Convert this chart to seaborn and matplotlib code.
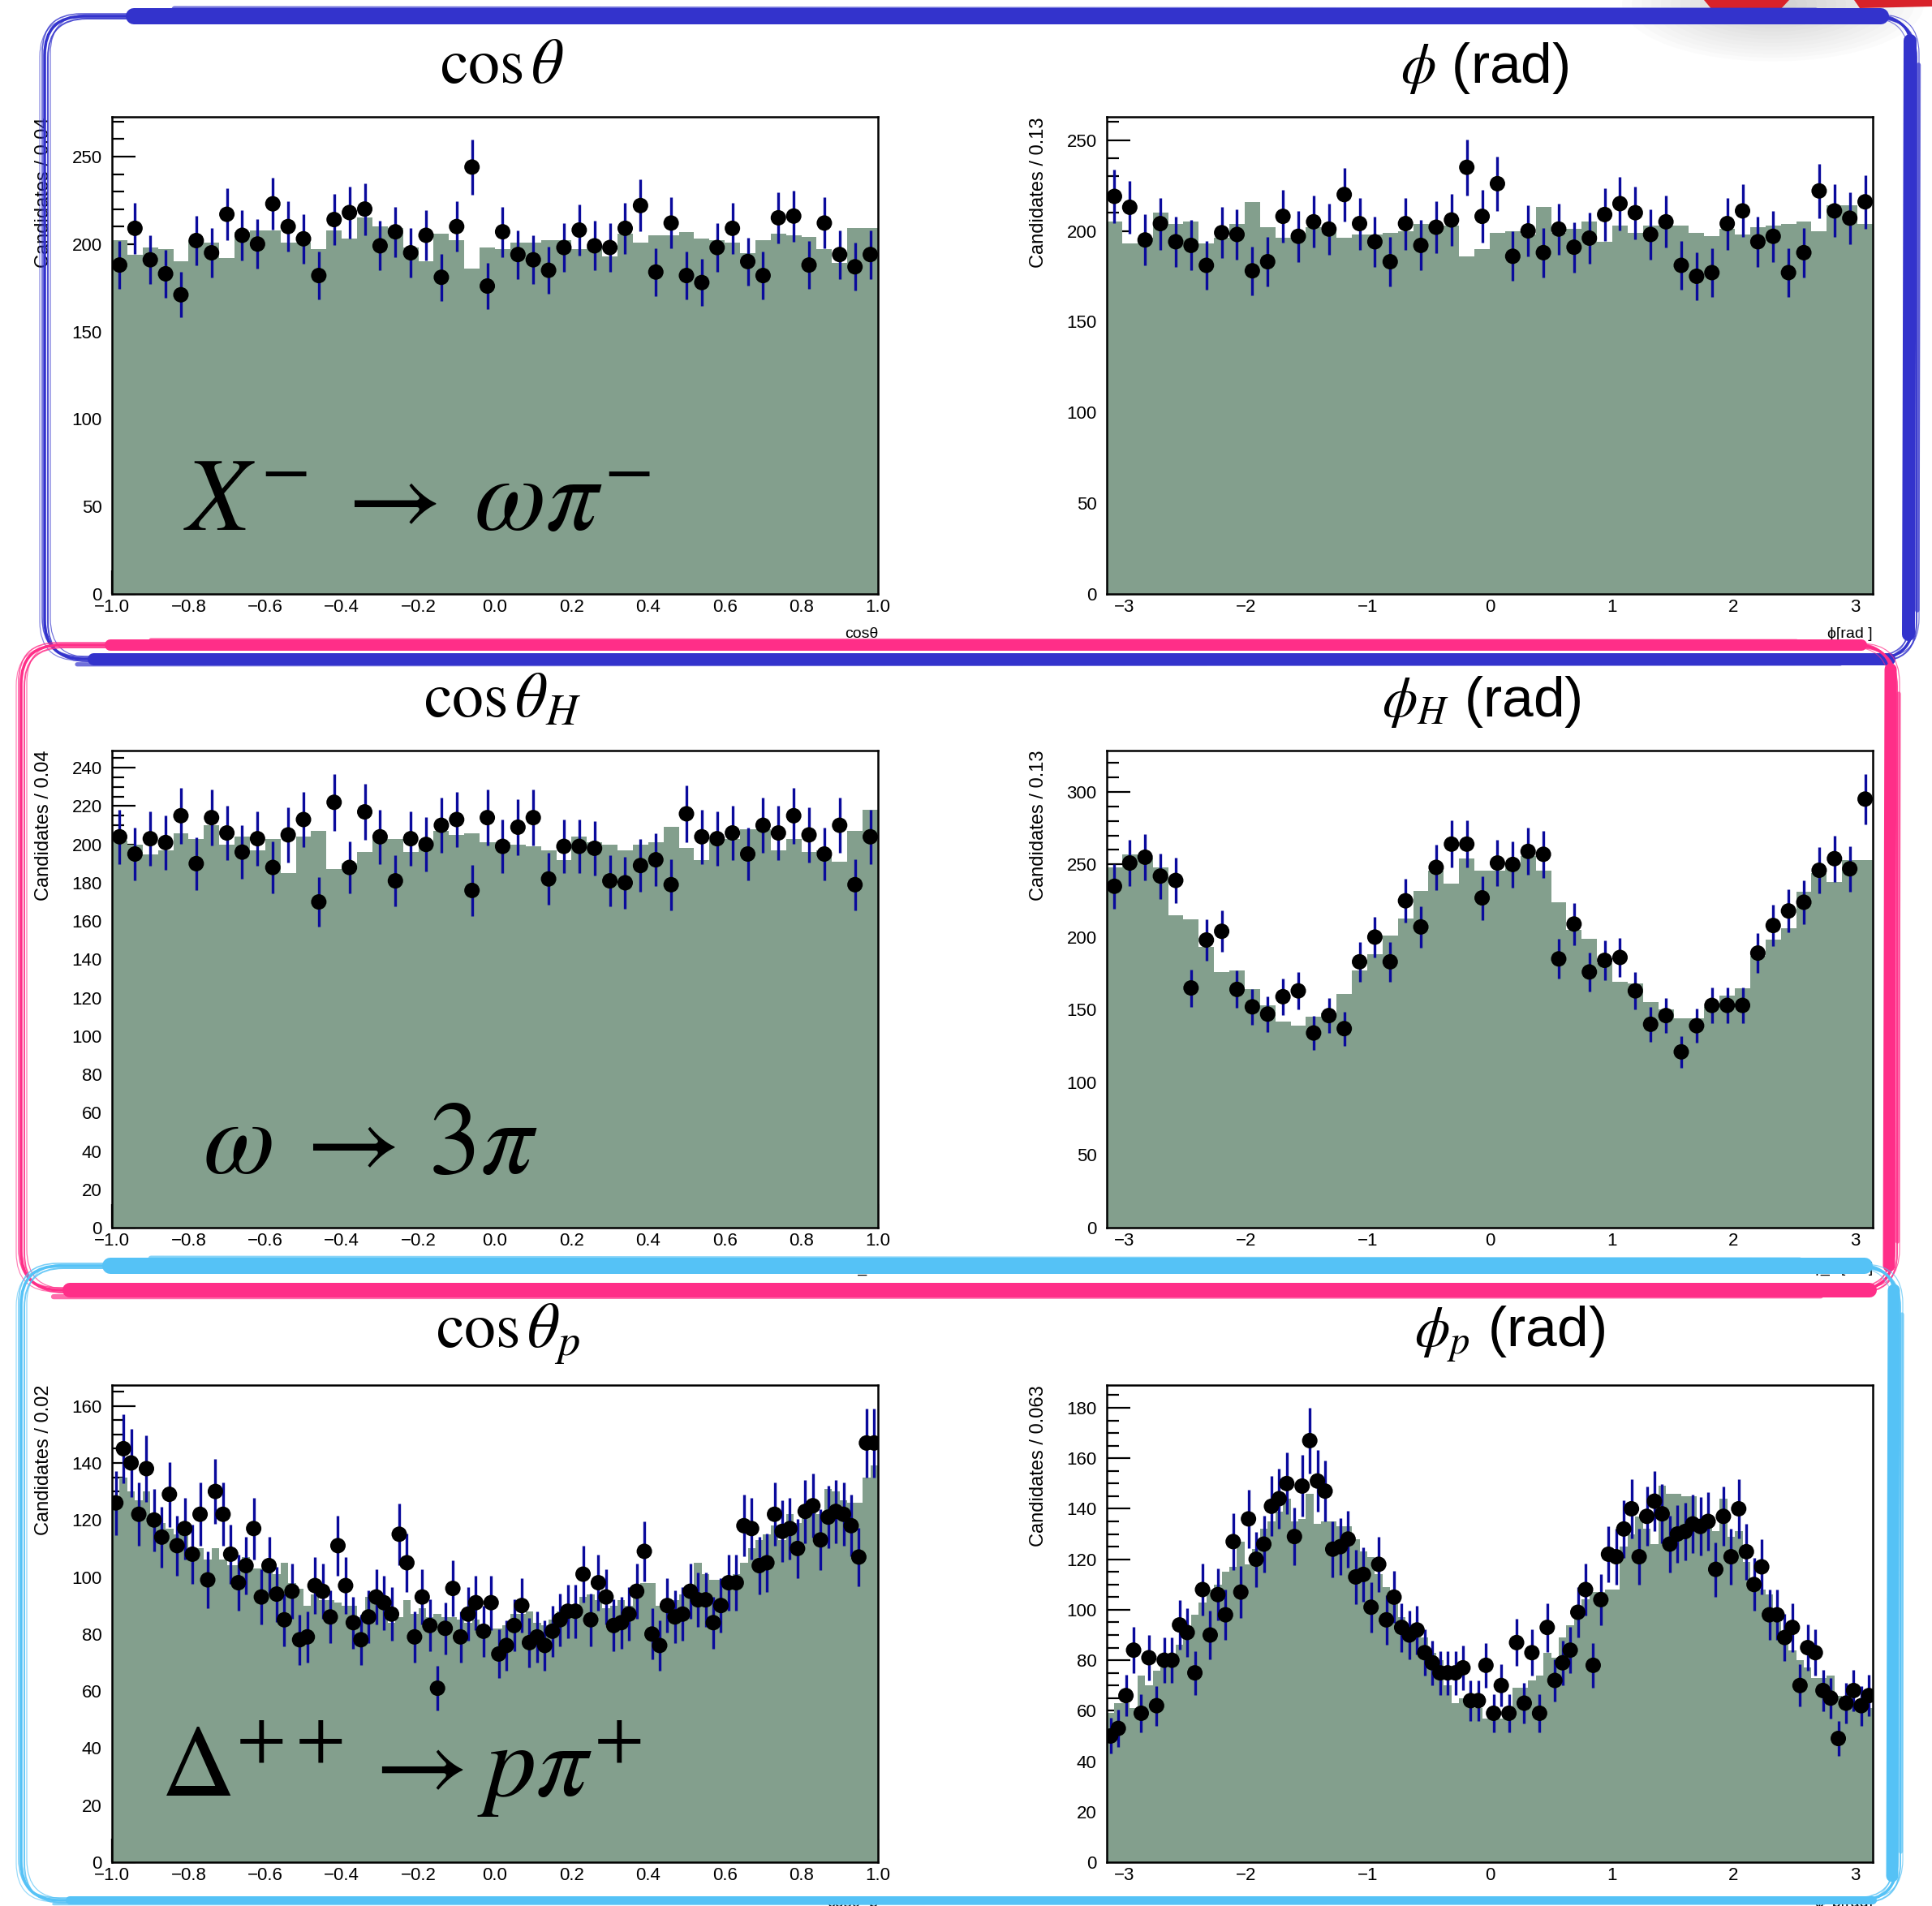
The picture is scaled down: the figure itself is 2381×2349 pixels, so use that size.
import numpy as np
import pandas as pd
import matplotlib
matplotlib.use("Agg")
import matplotlib.pyplot as plt
import seaborn as sns
from matplotlib.patches import FancyBboxPatch, Ellipse, Polygon
from matplotlib.lines import Line2D
from matplotlib.ticker import MultipleLocator, FuncFormatter
from matplotlib.transforms import IdentityTransform

# ---------------- data ----------------
cth_data = [188, 209, 191, 183, 171, 202, 195, 217, 205, 200, 223, 210, 203, 182, 214, 218, 220, 199, 207, 195,
            205, 181, 210, 244, 176, 207, 194, 191, 185, 198, 208, 199, 198, 209, 222, 184, 212, 182, 178, 198,
            209, 190, 182, 215, 216, 188, 212, 194, 187, 194]
cth_model = [202, 194, 198, 197, 190, 202, 201, 192, 207, 208, 208, 201, 201, 197, 208, 203, 215, 210, 209, 198,
             190, 206, 202, 186, 198, 197, 201, 201, 202, 202, 197, 198, 193, 206, 201, 205, 205, 207, 203, 202,
             201, 195, 202, 206, 205, 204, 197, 189, 209, 209]

phi_data = [219, 213, 195, 204, 194, 192, 181, 199, 198, 178, 183, 208, 197, 205, 201, 220, 204, 194, 183, 204,
            192, 202, 206, 235, 208, 226, 186, 200, 188, 201, 191, 196, 209, 215, 210, 198, 205, 181, 175, 177,
            204, 211, 194, 197, 177, 188, 222, 211, 207, 216]
phi_model = [205, 193, 196, 210, 204, 205, 193, 196, 204, 216, 202, 196, 199, 202, 200, 196, 198, 198, 199, 200,
             204, 204, 203, 186, 190, 199, 200, 198, 213, 199, 201, 205, 194, 203, 199, 203, 203, 203, 199, 197,
             201, 198, 202, 203, 204, 205, 200, 214, 214, 204]

cthH_data = [204, 195, 203, 201, 215, 190, 214, 206, 196, 203, 188, 205, 213, 170, 222, 188, 217, 204, 181, 203,
             200, 210, 213, 176, 214, 199, 209, 214, 182, 199, 199, 198, 181, 180, 189, 192, 179, 216, 204, 203,
             206, 195, 210, 206, 215, 205, 195, 210, 179, 204]
cthH_model = [202, 200, 195, 197, 206, 203, 210, 200, 204, 197, 203, 185, 204, 207, 187, 190, 196, 203, 203, 196,
              202, 207, 205, 206, 201, 201, 200, 199, 197, 192, 204, 201, 200, 197, 200, 201, 209, 198, 192, 202,
              203, 208, 208, 197, 203, 196, 197, 191, 207, 218]

phiH_data = [235, 251, 255, 242, 239, 165, 198, 204, 164, 152, 147, 159, 163, 134, 146, 137, 183, 200, 183, 225,
             207, 248, 264, 264, 227, 251, 250, 259, 257, 185, 209, 176, 184, 186, 163, 140, 146, 121, 139, 153,
             153, 153, 189, 208, 218, 224, 246, 254, 247, 295]
phiH_model = [248, 257, 254, 248, 215, 212, 193, 176, 177, 164, 153, 142, 139, 145, 148, 161, 177, 188, 201, 213,
              232, 246, 237, 254, 246, 246, 250, 256, 246, 224, 205, 199, 182, 169, 168, 155, 150, 144, 144, 152,
              160, 165, 187, 198, 206, 231, 244, 238, 253, 253]

cthp_data = [126, 145, 140, 122, 138, 120, 114, 129, 111, 117, 108, 122, 99, 130, 122, 108, 98, 104, 117, 93,
             104, 94, 85, 95, 78, 79, 97, 95, 86, 111, 97, 84, 78, 86, 93, 91, 87, 115, 105, 79,
             93, 83, 61, 82, 96, 79, 87, 91, 81, 91,
             73, 76, 83, 90, 77, 79, 76, 81, 85, 88, 88, 101, 85, 98, 93, 83, 84, 87, 95, 109,
             80, 76, 90, 86, 87, 95, 92, 92, 84, 90, 98, 98, 118, 117, 104, 105, 122, 116, 117, 110,
             123, 125, 113, 121, 123, 122, 118, 107, 147, 147]
cthp_model = [125, 135, 130, 127, 130, 120, 119, 117, 115, 116, 110, 110, 106, 110, 106, 104, 104, 107, 103, 103,
              106, 101, 105, 98, 96, 90, 94, 92, 92, 91, 90, 90, 86, 93, 91, 90, 84, 86, 92, 87,
              89, 86, 87, 86, 86, 85, 84, 85, 83, 82,
              82, 83, 87, 87, 88, 84, 83, 85, 88, 87, 90, 93, 94, 92, 89, 90, 92, 90, 93, 98,
              98, 90, 90, 92, 94, 95, 105, 101, 99, 99, 99, 101, 105, 110, 113, 115, 118, 113, 122, 119,
              123, 123, 122, 131, 130, 127, 126, 126, 135, 139]

phip_data = [50, 53, 66, 84, 59, 81, 62, 80, 80, 94, 91, 75, 108, 90, 106, 98, 127, 107, 136, 120,
             126, 141, 144, 150, 129, 149, 167, 151, 147, 124, 125, 128, 113, 114, 101, 118, 96, 105, 93, 90,
             92, 83, 79, 75, 75, 75, 77, 64, 64, 78,
             59, 70, 59, 87, 63, 83, 59, 93, 72, 79, 84, 99, 108, 78, 104, 122, 121, 132, 140, 121,
             137, 143, 138, 126, 130, 131, 134, 133, 135, 116, 137, 121, 140, 123, 110, 117, 98, 98, 89, 93,
             70, 85, 83, 68, 65, 49, 63, 68, 62, 66]
phip_model = [59, 63, 63, 61, 74, 70, 76, 77, 80, 86, 90, 98, 103, 108, 110, 115, 117, 127, 118, 124,
              132, 135, 139, 144, 135, 136, 146, 134, 135, 135, 133, 133, 128, 123, 121, 114, 109, 105, 97, 93,
              91, 89, 83, 80, 70, 63, 65, 63, 61, 57,
              57, 57, 57, 69, 69, 72, 74, 83, 81, 89, 94, 101, 104, 107, 107, 108, 108, 125, 130, 137,
              132, 126, 149, 146, 146, 145, 145, 134, 134, 131, 144, 129, 131, 119, 112, 108, 106, 95, 88, 84,
              80, 77, 73, 73, 74, 66, 64, 61, 61, 61]

ylabels = ["Candidates / 0.04", "Candidates / 0.13", "Candidates / 0.04",
           "Candidates / 0.13", "Candidates / 0.02", "Candidates / 0.063"]
xtitles = ["cos\u03b8", "\u03d5[rad ]", "cos\u03b8_H", "\u03d5_H[rad]", "cos\u03b8_p", "\u03d5_p[rad]"]
titles = [r"$\cos\theta$", r"$\phi$ (rad)", r"$\cos\theta_{H}$", r"$\phi_{H}$ (rad)",
          r"$\cos\theta_{p}$", r"$\phi_{p}$ (rad)"]
decays = [r"$X^{-}\:\rightarrow\:\omega\pi^{-}$", r"$\omega\:\rightarrow\,3\pi$",
          r"$\Delta^{++}\rightarrow p\pi^{+}$"]

# ---------------- style ----------------
sns.set_style("ticks")
plt.rcParams['font.family'] = ['Liberation Sans', 'DejaVu Sans']
plt.rcParams['mathtext.fontset'] = 'stix'
plt.rcParams['axes.unicode_minus'] = True
for key in ['text.color', 'axes.labelcolor', 'xtick.color', 'ytick.color', 'axes.edgecolor']:
    plt.rcParams[key] = 'black'

HIST_COLOR = '#839f8d'
ERR_COLOR = '#0a0a9c'

W, H = 2381, 2349
fig = plt.figure(figsize=(W / 100, H / 100), dpi=100)
fig.patch.set_facecolor('white')

COL_X0 = [138, 1364]
ROW_TOP = [144, 925, 1707]
AX_W, AX_H = 944, 588

panels = [
    dict(data=cth_data, model=cth_model, rng=(-1, 1), ylim=272.7, maj=50, mnr=10),
    dict(data=phi_data, model=phi_model, rng=(-np.pi, np.pi), ylim=262.8, maj=50, mnr=10),
    dict(data=cthH_data, model=cthH_model, rng=(-1, 1), ylim=249.0, maj=20, mnr=5),
    dict(data=phiH_data, model=phiH_model, rng=(-np.pi, np.pi), ylim=328.4, maj=50, mnr=10),
    dict(data=cthp_data, model=cthp_model, rng=(-1, 1), ylim=167.3, maj=20, mnr=5),
    dict(data=phip_data, model=phip_model, rng=(-np.pi, np.pi), ylim=189.0, maj=20, mnr=5),
]


def fx(x):
    return x / W


def fy(y):
    return 1 - y / H


def minus(s):
    return s.replace('-', '\u2212')


for k, p in enumerate(panels):
    row, col = divmod(k, 2)
    x0, top = COL_X0[col], ROW_TOP[row]
    ax = fig.add_axes([fx(x0), fy(top + AX_H), AX_W / W, AX_H / H])
    data = np.asarray(p['data'], float)
    model = np.asarray(p['model'], float)
    lo, hi = p['rng']
    nb = len(model)
    edges = np.linspace(lo, hi, nb + 1)
    centers = 0.5 * (edges[:-1] + edges[1:])
    df = pd.DataFrame({'x': centers, 'model': model, 'data': data})

    sns.histplot(data=df, x='x', weights='model', bins=nb, binrange=(lo, hi), element='step',
                 fill=True, color=HIST_COLOR, edgecolor=HIST_COLOR, alpha=1, linewidth=0,
                 ax=ax, zorder=1)
    ax.errorbar(df['x'], df['data'], yerr=np.sqrt(df['data']), fmt='none', ecolor=ERR_COLOR,
                elinewidth=2.4, capsize=0, zorder=3)
    sns.scatterplot(data=df, x='x', y='data', color='black', s=188, edgecolor='none', linewidth=0,
                    ax=ax, zorder=4)

    ax.set_xlim(lo, hi)
    ax.set_ylim(0, p['ylim'])
    ax.set_axisbelow(True)
    ax.set_xlabel("")
    ax.set_ylabel(ylabels[k], loc='top', fontsize=17, color='black')
    ax.yaxis.set_label_coords(-0.077, 1.0)

    ax.yaxis.set_major_locator(MultipleLocator(p['maj']))
    ax.yaxis.set_minor_locator(MultipleLocator(p['mnr']))
    if col == 0:
        ticks = np.round(np.linspace(-1, 1, 11), 1) + 0.0
        ax.set_xticks(ticks)
        ax.xaxis.set_major_formatter(FuncFormatter(lambda v, pos: minus(f"{v:.1f}")))
        ax.xaxis.set_minor_locator(MultipleLocator(0.04))
    else:
        ax.set_xticks([-3, -2, -1, 0, 1, 2, 3])
        ax.xaxis.set_minor_locator(MultipleLocator(0.25))

    ax.tick_params(axis='y', which='major', direction='in', length=21, width=1.6,
                   labelsize=16, pad=9, colors='black')
    ax.tick_params(axis='y', which='minor', direction='in', length=11, width=1.6, colors='black')
    ax.tick_params(axis='x', which='major', direction='in', length=21, width=1.6,
                   labelsize=16, pad=4, colors='black')
    ax.tick_params(axis='x', which='minor', direction='in', length=11, width=1.6, colors='black')
    for s in ax.spines.values():
        s.set_visible(True)
        s.set_linewidth(1.8)
        s.set_color('black')
        s.set_zorder(5)

    # small RooFit x-axis title under the axis
    fig.text(fx(x0 + AX_W), fy(top + AX_H + 50), xtitles[k], ha='right', va='center',
             fontsize=14, color='black')

# ---------------- big titles ----------------
title_pos = [(619, 102), (1830, 102), (619, 883), (1826, 883), (626, 1660), (1860, 1660)]
for k, (tx, ty) in enumerate(title_pos):
    fs = 56 if k % 2 == 0 else 50
    fig.text(fx(tx), fy(ty), titles[k], ha='center', va='baseline', fontsize=fs, color='black')

# ---------------- decay labels ----------------
decay_pos = [(226, 653, 92), (250, 1446, 92), (198, 2214, 91)]
for txt, (tx, ty, fs) in zip(decays, decay_pos):
    fig.text(fx(tx), fy(ty), txt, ha='left', va='baseline', fontsize=fs, color='black', zorder=6)

# ---------------- hand-drawn boxes ----------------
ID = IdentityTransform()


def add_line(xs, ys, color, lw_px, alpha=1.0, z=20):
    ln = Line2D(xs, [H - y for y in ys], transform=ID, color=color,
                linewidth=lw_px * 0.72, alpha=alpha, solid_capstyle='round', zorder=z)
    fig.add_artist(ln)


def add_rbox(x0, y0, x1, y1, color, r, lw_px, dx=0, dy=0, alpha=1.0, z=20):
    patch = FancyBboxPatch((x0 + dx, H - y1 + dy), (x1 - x0), (y1 - y0),
                           boxstyle=f"round,pad=0,rounding_size={r}", transform=ID,
                           fill=False, edgecolor=color, linewidth=lw_px * 0.72,
                           alpha=alpha, zorder=z)
    fig.add_artist(patch)


def hand_box(x0, y0, x1, y1, color, top_w, bot_w, right_w, z):
    r = 48
    for dx, dy, lw, a in [(0, 0, 3.5, 1.0), (4, -3, 2.0, 0.85), (-3, 3, 1.6, 0.8),
                          (7, 2, 1.2, 0.7), (-6, -2, 1.2, 0.6)]:
        add_rbox(x0, y0, x1, y1, color, r, lw, dx, dy, a, z)
    # thick brush bands
    add_line([x0 + 110, x1 - 40], [y0, y0], color, top_w, 1.0, z)
    add_line([x0 + 160, x1 - 120], [y0 - top_w * 0.45, y0 - top_w * 0.35], color, top_w * 0.35, 0.7, z)
    add_line([x0 + 60, x1 - 30], [y1, y1], color, bot_w, 1.0, z)
    add_line([x0 + 40, x1 - 90], [y1 + bot_w * 0.45, y1 + bot_w * 0.4], color, bot_w * 0.35, 0.7, z)
    add_line([x1 - 4, x1 - 6], [y0 + 30, y1 - 30], color, right_w, 1.0, z)
    add_line([x1 + right_w * 0.4, x1 + right_w * 0.3], [y0 + 60, y1 - 60], color, right_w * 0.35, 0.7, z)


# soft shadow and red shape at top-right corner
for i in range(14):
    w_ = 60 + 24 * i
    e = Ellipse((2185, H - 5), w_, w_ * 0.38, transform=ID, color='#8a8a8a', alpha=0.028,
                zorder=15, lw=0)
    fig.add_artist(e)
for pts in [[(2100, 0), (2205, 0), (2192, 14), (2110, 12)],
            [(2285, 0), (2381, 0), (2381, 8), (2292, 10)]]:
    poly = Polygon([(x, H - y) for x, y in pts], closed=True, transform=ID,
                   facecolor='#d8222a', edgecolor='none', zorder=16)
    fig.add_artist(poly)

hand_box(55, 20, 2358, 812, '#3333cc', 20, 15, 16, 20)
hand_box(26, 795, 2334, 1590, '#ff2e88', 14, 18, 15, 21)
hand_box(26, 1560, 2338, 2342, '#55c2f6', 20, 10, 15, 22)

fig.savefig("out.png", dpi=100, facecolor='white')
